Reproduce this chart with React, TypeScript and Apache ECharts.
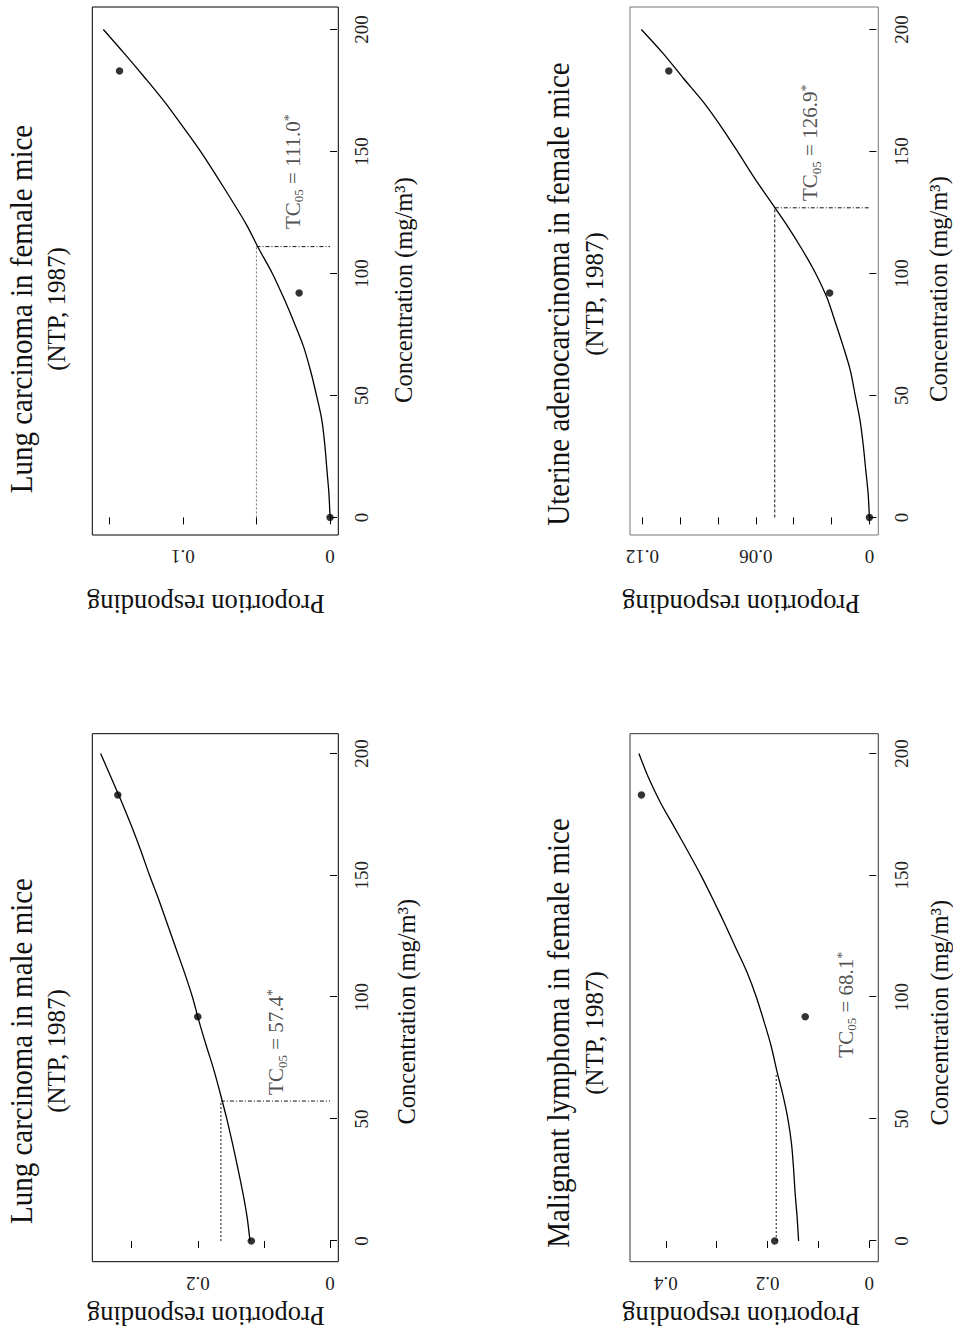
import React, { useEffect, useRef } from "react";
import * as echarts from "echarts";

const FONT = "'Liberation Serif', 'Times New Roman', Times, serif";

// ---------- shared data ----------
const studyDoses = [0, 92, 183];
const curveDoses = [0, 10, 20, 30, 40, 50, 60, 70, 80, 90, 100, 110, 120, 130, 140, 150, 160, 170, 180, 190, 200];
const concentrationTicks = [0, 50, 100, 150, 200];
const subtitleText = "(NTP, 1987)";
const xAxisName = "Concentration (mg/m³)";
const yAxisName = "Proportion responding";

// ---------- Lung carcinoma in female mice ----------
const lungFemaleTitle = "Lung carcinoma in female mice";
const lungFemaleObserved = [0.0, 0.021, 0.143];
const lungFemaleFit = [0, 0.0008, 0.0022, 0.0036, 0.0056, 0.0092, 0.0132, 0.018, 0.0245, 0.0315, 0.0392, 0.0483, 0.0568, 0.0668, 0.0772, 0.088, 0.0998, 0.112, 0.1255, 0.1395, 0.154];
const lungFemaleTC05 = 111.0;
const lungFemaleBmrLevel = 0.05;
const lungFemaleYTicks = [0, 0.05, 0.1, 0.15];
const lungFemaleYLabels = [0, 0.1];

// ---------- Uterine adenocarcinoma in female mice ----------
const uterineTitle = "Uterine adenocarcinoma in female mice";
const uterineObserved = [0.0, 0.021, 0.106];
const uterineFit = [0, 0.0007, 0.002, 0.0033, 0.005, 0.0075, 0.01, 0.0138, 0.018, 0.0224, 0.0284, 0.0357, 0.0438, 0.0527, 0.0615, 0.0697, 0.0782, 0.0875, 0.0983, 0.1088, 0.1205];
const uterineTC05 = 126.9;
const uterineBmrLevel = 0.05;
const uterineYTicks = [0, 0.02, 0.04, 0.06, 0.08, 0.1, 0.12];
const uterineYLabels = [0, 0.06, 0.12];

// ---------- Lung carcinoma in male mice ----------
const lungMaleTitle = "Lung carcinoma in male mice";
const lungMaleObserved = [0.119, 0.2, 0.321];
const lungMaleFit = [0.121, 0.1255, 0.132, 0.1395, 0.1475, 0.156, 0.1655, 0.1755, 0.187, 0.198, 0.208, 0.22, 0.233, 0.246, 0.259, 0.273, 0.286, 0.3, 0.315, 0.331, 0.347];
const lungMaleTC05 = 57.4;
const lungMaleBmrLevel = 0.165;
const lungMaleYTicks = [0, 0.1, 0.2, 0.3];
const lungMaleYLabels = [0, 0.2];

// ---------- Malignant lymphoma in female mice ----------
const lymphomaTitle = "Malignant lymphoma in female mice";
const lymphomaObserved = [0.186, 0.126, 0.448];
const lymphomaFit = [0.139, 0.142, 0.146, 0.149, 0.153, 0.16, 0.17, 0.182, 0.193, 0.207, 0.222, 0.24, 0.262, 0.284, 0.307, 0.331, 0.357, 0.384, 0.411, 0.434, 0.453];
const lymphomaTC05 = 68.1;
const lymphomaBmrLevel = 0.183;
const lymphomaYTicks = [0, 0.1, 0.2, 0.3, 0.4];
const lymphomaYLabels = [0, 0.2, 0.4];

// ---------- panels (layout in the un-rotated, landscape frame 1338 x 953) ----------
const panels = [
  {
    title: lungFemaleTitle, observed: lungFemaleObserved, fit: lungFemaleFit, tc05: lungFemaleTC05, bmr: lungFemaleBmrLevel,
    yTicks: lungFemaleYTicks, yLabels: lungFemaleYLabels, drop: true,
    layout: { left: 803, top: 92.3, width: 528, height: 246, xMin: -7.2, xMax: 209.2, yMin: -0.0056, yMax: 0.1615,
      border: "#000", titleX: 1029, xNameGap: 53, xNamePad: 38, yNameGap: 55, yNamePad: 19, labelAt: [118, 0.0245], refColor: "#777", refDash: [2, 2] },
  },
  {
    title: uterineTitle, observed: uterineObserved, fit: uterineFit, tc05: uterineTC05, bmr: uterineBmrLevel,
    yTicks: uterineYTicks, yLabels: uterineYLabels, drop: true,
    layout: { left: 803, top: 630, width: 528, height: 248.3, xMin: -7.2, xMax: 209.2, yMin: -0.0047, yMax: 0.1265,
      border: "#777", titleX: 1044, xNameGap: 48, xNamePad: 36, yNameGap: 55, yNamePad: 26, labelAt: [129.5, 0.0307], refColor: "#111", refDash: [3, 2] },
  },
  {
    title: lungMaleTitle, observed: lungMaleObserved, fit: lungMaleFit, tc05: lungMaleTC05, bmr: lungMaleBmrLevel,
    yTicks: lungMaleYTicks, yLabels: lungMaleYLabels, drop: true,
    layout: { left: 76.3, top: 92.3, width: 528, height: 246, xMin: -8.5, xMax: 208.1, yMin: -0.0126, yMax: 0.3596,
      border: "#000", titleX: 287, xNameGap: 56, xNamePad: 28, yNameGap: 41, yNamePad: 19, labelAt: [59.7, 0.08], refColor: "#111", refDash: [2, 2] },
  },
  {
    title: lymphomaTitle, observed: lymphomaObserved, fit: lymphomaFit, tc05: lymphomaTC05, bmr: lymphomaBmrLevel,
    yTicks: lymphomaYTicks, yLabels: lymphomaYLabels, drop: false,
    layout: { left: 76.3, top: 630, width: 528, height: 248.3, xMin: -8.5, xMax: 208.1, yMin: -0.0177, yMax: 0.4705,
      border: "#333", titleX: 305, xNameGap: 49, xNamePad: 30, yNameGap: 41, yNamePad: 26, labelAt: [75, 0.0445], refColor: "#111", refDash: [2, 2] },
  },
];

function buildOption() {
  const grid: any[] = [];
  const xAxis: any[] = [];
  const yAxis: any[] = [];
  const series: any[] = [];
  const graphic: any[] = [];

  panels.forEach((p, i) => {
    const L = p.layout;
    grid.push({
      left: L.left, top: L.top, width: L.width, height: L.height,
      show: true, borderColor: L.border, borderWidth: 1, backgroundColor: "transparent",
      containLabel: false, outerBoundsMode: "none",
    });
    xAxis.push({
      gridIndex: i, type: "value", min: L.xMin, max: L.xMax,
      axisLine: { show: false }, splitLine: { show: false },
      axisTick: { show: true, length: 7, customValues: concentrationTicks, lineStyle: { color: "#000", width: 1 } },
      axisLabel: { customValues: concentrationTicks, margin: 14, fontSize: 19, fontFamily: FONT, color: "#222" },
      name: xAxisName, nameLocation: "middle", nameGap: L.xNameGap,
      nameTextStyle: { fontSize: 24.5, fontFamily: FONT, color: "#111", padding: [0, L.xNamePad, 0, 0] },
    });
    yAxis.push({
      gridIndex: i, type: "value", min: L.yMin, max: L.yMax,
      axisLine: { show: false }, splitLine: { show: false },
      axisTick: { show: true, length: 7, customValues: p.yTicks, lineStyle: { color: "#000", width: 1 } },
      axisLabel: { customValues: p.yLabels, rotate: 90, margin: 12, fontSize: 19, fontFamily: FONT, color: "#222",
        formatter: (v: number) => String(v) },
      name: yAxisName, nameLocation: "middle", nameGap: L.yNameGap, nameRotate: 90,
      nameTextStyle: { fontSize: 26.5, fontFamily: FONT, color: "#111", padding: [0, 0, 0, L.yNamePad] },
    });

    // reference line at the benchmark response level
    series.push({
      type: "line", xAxisIndex: i, yAxisIndex: i, symbol: "none", silent: true, z: 2,
      data: [[0, p.bmr], [p.tc05, p.bmr]],
      lineStyle: { color: L.refColor, width: 1, type: L.refDash },
    });
    if (p.drop) {
      series.push({
        type: "line", xAxisIndex: i, yAxisIndex: i, symbol: "none", silent: true, z: 2,
        data: [[p.tc05, p.bmr], [p.tc05, 0]],
        lineStyle: { color: "#111", width: 1, type: [4, 2, 1, 2] },
      });
    }
    // fitted curve
    series.push({
      type: "line", xAxisIndex: i, yAxisIndex: i, symbol: "none", silent: true, z: 3, smooth: 0.3,
      data: curveDoses.map((d, k) => [d, p.fit[k]]),
      lineStyle: { color: "#000", width: 1.3 },
    });
    // observed proportions
    series.push({
      type: "scatter", xAxisIndex: i, yAxisIndex: i, silent: true, z: 4,
      symbol: "circle", symbolSize: 7.5, itemStyle: { color: "#000" },
      data: studyDoses.map((d, k) => [d, p.observed[k]]),
    });
    // TC05 annotation
    series.push({
      type: "scatter", xAxisIndex: i, yAxisIndex: i, silent: true, z: 5,
      symbol: "circle", symbolSize: 1, itemStyle: { color: "rgba(0,0,0,0)" },
      data: [L.labelAt],
      label: {
        show: true, position: "right", distance: 0,
        formatter: "{a|TC}{b|05}{a| = " + p.tc05.toFixed(1) + "}{c|*}",
        rich: {
          a: { fontSize: 21, fontFamily: FONT, color: "#222", verticalAlign: "bottom", padding: [0, 0, 2, 0] },
          b: { fontSize: 13, fontFamily: FONT, color: "#222", verticalAlign: "bottom" },
          c: { fontSize: 14, fontFamily: FONT, color: "#222", verticalAlign: "top" },
        },
      },
    });

    // titles (slightly condensed glyphs, as in the reference)
    const titleMid = L.top - 61 - 0.3375 * 31;
    const subMid = L.top - 27.5 - 0.3375 * 25;
    graphic.push({
      type: "text", x: L.titleX, y: titleMid, scaleX: 0.935, scaleY: 1, silent: true,
      style: { text: p.title, fontSize: 31, fontFamily: FONT, fill: "#111",
        textAlign: "center", align: "center", textVerticalAlign: "middle", verticalAlign: "middle" },
    });
    graphic.push({
      type: "text", x: L.titleX, y: subMid, silent: true,
      style: { text: subtitleText, fontSize: 25, fontFamily: FONT, fill: "#111",
        textAlign: "center", align: "center", textVerticalAlign: "middle", verticalAlign: "middle" },
    });
  });

  return {
    animation: false,
    backgroundColor: "#fff",
    textStyle: { fontFamily: FONT },
    grid, xAxis, yAxis, series, graphic,
  };
}

export default function App() {
  const ref = useRef<HTMLDivElement>(null);
  useEffect(() => {
    if (!ref.current) return;
    const chart = echarts.init(ref.current, null, { renderer: "svg" });
    chart.setOption(buildOption() as any);
    return () => chart.dispose();
  }, []);
  return (
    <div style={{ position: "absolute", left: 0, top: 0, width: 953, height: 1338, overflow: "hidden", background: "#fff" }}>
      <div
        ref={ref}
        style={{
          position: "absolute", left: 0, top: 0, width: 1338, height: 953,
          transformOrigin: "0 0", transform: "translate(0px, 1338px) rotate(-90deg)",
        }}
      />
    </div>
  );
}
